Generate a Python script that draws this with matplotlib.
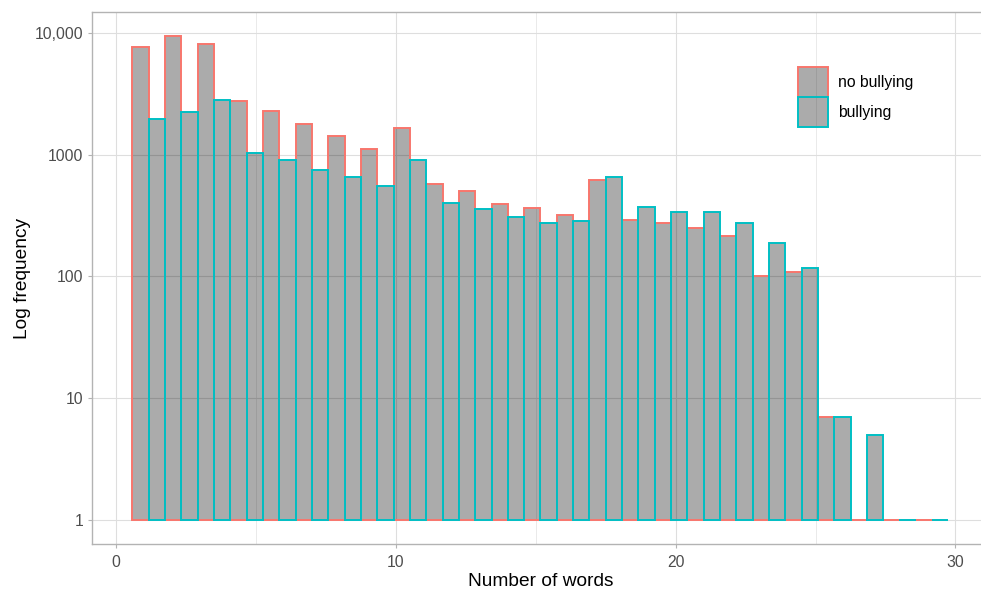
import numpy as np
import matplotlib
matplotlib.use("Agg")
import matplotlib.pyplot as plt
from matplotlib.patches import Patch

# ---- data ----
bin_start = 7 / 12          # left edge of first bin
bin_width = 7 / 6           # histogram bin width (25 bins)
no_bullying = [7580, 9330, 8130, 2760, 2280, 1780, 1410, 1100, 1640, 578,
               497, 389, 366, 320, 620, 290, 273, 249, 214, 101,
               109, 7, 0, 0, 0]
bullying = [1960, 2240, 2790, 1020, 898, 753, 652, 550, 910, 399,
            356, 308, 273, 282, 656, 373, 336, 335, 276, 187,
            118, 7, 5, 0, 0]
series_labels = ["no bullying", "bullying"]
x_ticks = [0, 10, 20, 30]
y_ticks = [1, 10, 100, 1000, 10000]
y_tick_labels = ["1", "10", "100", "1000", "10,000"]

RED = "#F8766D"
CYAN = "#00BFC4"
FILL = (0, 0, 0, 0.33)

plt.rcParams['font.family'] = ['Liberation Sans', 'DejaVu Sans']

W, H = 981, 590
fig = plt.figure(figsize=(W / 100, H / 100), dpi=100)
# panel in pixel coords: left 92, right ~989 (cut), top 12.3, bottom 544
left, right, top, bottom = 91.7, 989.0, 12.3, 544.0
ax = fig.add_axes([left / W, 1 - bottom / H, (right - left) / W, (bottom - top) / H])

n = len(no_bullying)
edges = bin_start + np.arange(n) * bin_width
nb = np.array(no_bullying, dtype=float)
b = np.array(bullying, dtype=float)

ax.bar(edges, np.maximum(nb, 1) - 1, bottom=1, width=bin_width / 2, align='edge',
       facecolor=FILL, edgecolor=RED, linewidth=1.4, zorder=3)
ax.bar(edges + bin_width / 2, np.maximum(b, 1) - 1, bottom=1, width=bin_width / 2,
       align='edge', facecolor=FILL, edgecolor=CYAN, linewidth=1.4, zorder=4)

ax.set_yscale('log')
ax.set_ylim(10 ** -0.1985, 10 ** 4.168)
ax.set_xlim(-0.875, 31.2)

ax.set_xticks(x_ticks)
ax.set_xticks([5, 15, 25], minor=True)
ax.set_yticks(y_ticks)
ax.set_yticklabels(y_tick_labels)
ax.yaxis.set_minor_locator(matplotlib.ticker.NullLocator())

ax.grid(True, which='major', color='#DEDEDE', linewidth=0.8, zorder=0)
ax.grid(True, which='minor', axis='x', color='#E6E6E6', linewidth=0.6, zorder=0)
ax.set_axisbelow(True)

ax.tick_params(axis='both', which='major', length=3, width=0.8, color='#B3B3B3',
               labelcolor='#4D4D4D', labelsize=11.3, pad=3)
ax.tick_params(axis='x', which='major', pad=5)
ax.tick_params(axis='x', which='minor', length=0)

for s in ['left', 'bottom', 'top']:
    ax.spines[s].set_color('#B3B3B3')
    ax.spines[s].set_linewidth(1.0)
ax.spines['right'].set_visible(False)

ax.set_xlabel("Number of words", fontsize=13.8, color='black', labelpad=2)
ax.set_ylabel("Log frequency", fontsize=13.8, color='black', labelpad=3)

handles = [Patch(facecolor=FILL, edgecolor=RED, linewidth=1.4),
           Patch(facecolor=FILL, edgecolor=CYAN, linewidth=1.4)]
leg = fig.legend(handles, series_labels, loc='upper left',
                 bbox_to_anchor=(798 / W, 1 - 67 / H), bbox_transform=fig.transFigure,
                 frameon=False, fontsize=11.3, handlelength=1.9, handleheight=2.56,
                 handletextpad=0.62, labelspacing=0.0, borderpad=0, borderaxespad=0)

fig.savefig("out.png", dpi=100)
